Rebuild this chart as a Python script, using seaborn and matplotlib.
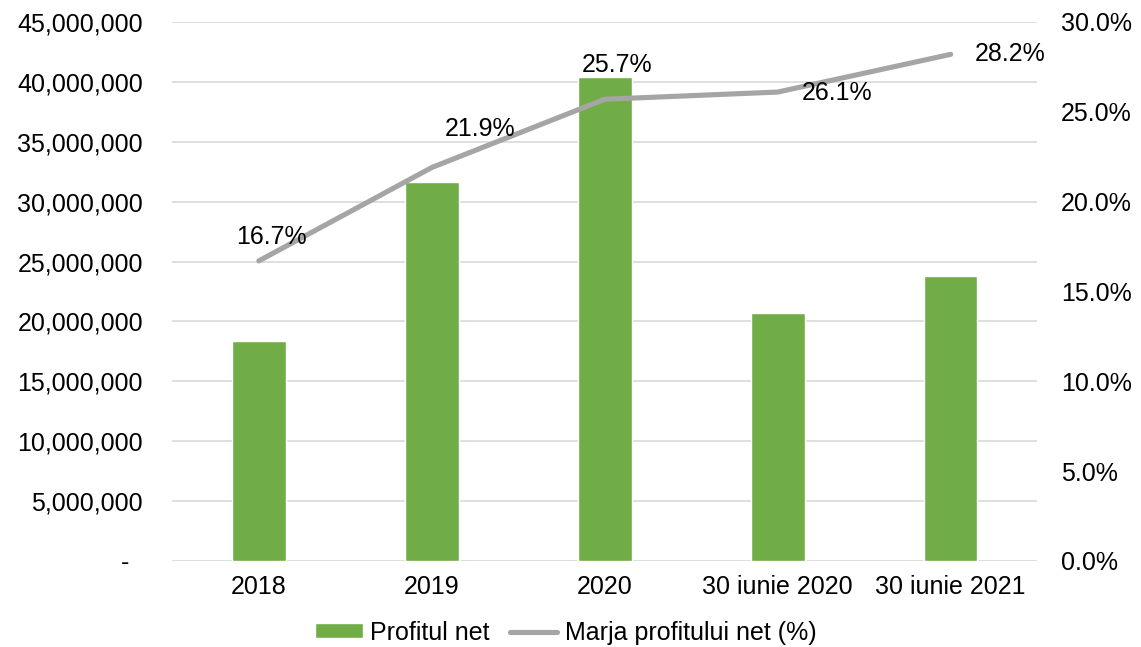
import numpy as np
import pandas as pd
import matplotlib
matplotlib.use("Agg")
import matplotlib.pyplot as plt
import matplotlib.ticker as mticker
import seaborn as sns

# data
categories = ["2018", "2019", "2020", "30 iunie 2020", "30 iunie 2021"]
profit_net = [18360000, 31640000, 40400000, 20700000, 23800000]
marja = [16.7, 21.9, 25.7, 26.1, 28.2]

green = "#70AD47"
grey = "#A5A5A5"
fs = 18

sns.set_style("white")
plt.rcParams['font.family'] = ['Liberation Sans', 'DejaVu Sans']
plt.rcParams['font.size'] = fs
plt.rcParams['text.color'] = 'black'
plt.rcParams['xtick.color'] = 'black'
plt.rcParams['ytick.color'] = 'black'

fig = plt.figure(figsize=(11.41, 6.47), dpi=100)
ax = fig.add_axes([0.151, 0.133, 0.758, 0.833])

df = pd.DataFrame({"cat": categories, "profit": profit_net})
sns.barplot(data=df, x="cat", y="profit", color=green, width=0.31,
            saturation=1, ax=ax, label="Profitul net", zorder=2)

ax.set_ylim(0, 45000000)
ax.set_xlim(-0.5, 4.5)
ax.yaxis.set_major_locator(mticker.MultipleLocator(5000000))
ax.yaxis.set_major_formatter(mticker.FuncFormatter(
    lambda v, p: "-  " if v == 0 else f"{v:,.0f}"))
ax.grid(axis="y", color="#D9D9D9", linewidth=1.2, zorder=0)
ax.set_axisbelow(True)
ax.set_xlabel("")
ax.set_ylabel("")
for s in ax.spines.values():
    s.set_visible(False)
ax.tick_params(axis="x", length=0, labelsize=fs, pad=10)
ax.tick_params(axis="y", length=0, labelsize=fs, pad=21)

ax2 = ax.twinx()
sns.lineplot(x=np.arange(len(categories)), y=marja, color=grey, linewidth=3.7,
             ax=ax2, label="Marja profitului net (%)")
ax2.set_ylim(0, 30)
ax2.yaxis.set_major_locator(mticker.MultipleLocator(5))
ax2.yaxis.set_major_formatter(mticker.FuncFormatter(lambda v, p: f"{v:.1f}%"))
for s in ax2.spines.values():
    s.set_visible(False)
ax2.tick_params(axis="y", length=0, labelsize=fs, pad=17)
ax2.set_ylabel("")
ax2.get_legend().remove()

# data labels (offsets in points, label centre relative to the point)
offsets = [(9, 17), (35, 28), (9, 25), (43, -1), (43, 0)]
for i, (v, off) in enumerate(zip(marja, offsets)):
    ax2.annotate(f"{v:.1f}%", (i, v), xytext=off, textcoords="offset points",
                 ha="center", va="center", fontsize=fs, color="black")

h1, l1 = ax.get_legend_handles_labels()
h2, l2 = ax2.get_legend_handles_labels()
if ax.get_legend():
    ax.get_legend().remove()
fig.legend(h1 + h2, ["Profitul net", "Marja profitului net (%)"],
           loc="center", bbox_to_anchor=(0.496, 0.022), ncol=2,
           frameon=False, fontsize=fs, handlelength=1.9, handleheight=0.55,
           handletextpad=0.3, columnspacing=0.8)

fig.savefig("out.png", dpi=100)
